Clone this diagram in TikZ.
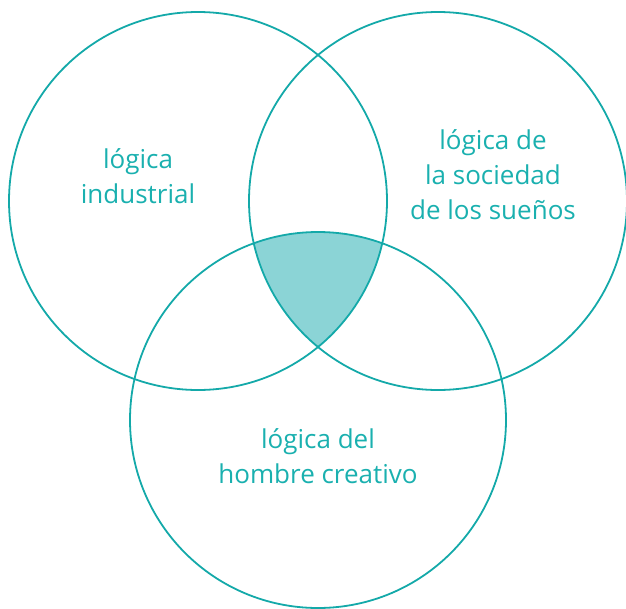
\documentclass[tikz,border=0pt]{standalone}
\usepackage{fontspec}
\setmainfont{Open Sans}
\usepackage{tikz}
\usetikzlibrary{positioning}
\definecolor{vennline}{HTML}{14A9A9}
\definecolor{venntext}{HTML}{1AB0AF}
\definecolor{vennfill}{HTML}{8BD4D6}

\begin{document}
\begin{tikzpicture}[
    x=1pt, y=-1pt,
    every node/.style={font=\fontsize{26}{35}\selectfont, venntext, align=center},
    ring/.style={draw=vennline, line width=1.8pt}
]
    \useasboundingbox (0,0) rectangle (626,608);

    % === SHARED AREA OF THE THREE LOGICS ===
    \begin{scope}
        \clip (198,201) circle (189);
        \clip (438,201) circle (189);
        \fill[vennfill] (318,420) circle (188);
    \end{scope}

    % === CIRCLES ===
    \draw[ring] (198,201) circle (189);
    \draw[ring] (438,201) circle (189);
    \draw[ring] (318,420) circle (188);

    % === LABELS ===
    \node (industrial) at (138,176) {lógica\\industrial};
    \node (suenos) at (493,175) {lógica de\\la sociedad\\de los sueños};
    \node (creativo) at (318,456) {lógica del\\hombre creativo};
\end{tikzpicture}
\end{document}
